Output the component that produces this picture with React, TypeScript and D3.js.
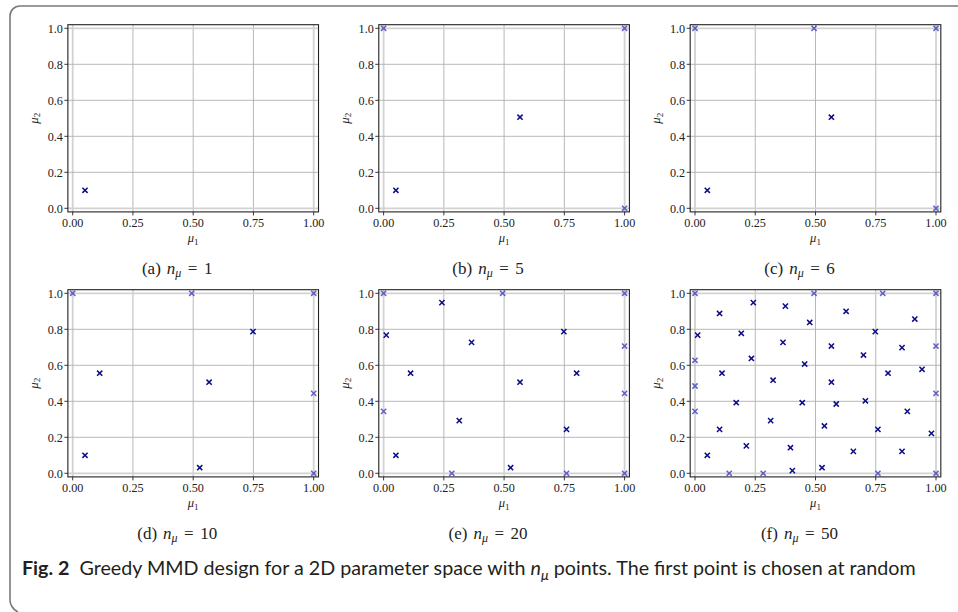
import React from "react";
import * as d3 from "d3";

// Greedy MMD design sequence (first n points are used for each panel)
const MU1 = [
  0.051,
  0, 1, 1, 0.566,
  0.494,
  0.748, 0.112, 1, 0.527,
  0.242, 0.011, 0.365, 1, 0.801, 0, 0.314, 0.759, 0.283, 0.759,
  0.779, 0.375, 0.102, 0.627, 0.476, 0.912, 0.192, 0, 0.234, 0.455,
  0.324, 0.566, 0.699, 0.859, 0.942, 0, 0.171, 0.445, 0.586, 0.707,
  0.881, 0.102, 0.537, 0.981, 0.213, 0.396, 0.657, 0.859, 0.142, 0.404,
];
const MU2 = [
  0.10,
  1, 1, 0, 0.506,
  1,
  0.787, 0.556, 0.444, 0.031,
  0.948, 0.768, 0.727, 0.707, 0.556, 0.344, 0.293, 0.244, 0, 0,
  1, 0.929, 0.888, 0.9, 0.838, 0.857, 0.778, 0.628, 0.638, 0.607,
  0.517, 0.707, 0.657, 0.698, 0.578, 0.485, 0.392, 0.392, 0.385, 0.403,
  0.344, 0.244, 0.263, 0.222, 0.152, 0.142, 0.122, 0.122, 0, 0.015,
];
const PANEL_LETTERS = ["a", "b", "c", "d", "e", "f"];
const PANEL_N = [1, 5, 6, 10, 20, 50];
const X_TICKS = [0, 0.25, 0.5, 0.75, 1];
const Y_TICKS = [0, 0.2, 0.4, 0.6, 0.8, 1];
const CAPTION_LABEL = "Fig. 2";
const CAPTION_PRE = "Greedy MMD design for a 2D parameter space with ";
const CAPTION_POST = " points. The first point is chosen at random";

const W = 958;
const H = 612;
const COL_X0 = [72.7, 383.6, 695];
const ROW_Y1 = [28.3, 293.3];
const UNIT_W = 241;
const UNIT_H = 180;
const PAD = 0.02;
const SERIF = "'Liberation Serif', 'DejaVu Serif', serif";
const SANS = "Lato, 'Open Sans', sans-serif";

function Panel({ idx }: { idx: number }) {
  const col = idx % 3;
  const row = Math.floor(idx / 3);
  const x0 = COL_X0[col];
  const y1 = ROW_Y1[row];
  const x = d3
    .scaleLinear()
    .domain([-PAD, 1 + PAD])
    .range([x0 - PAD * UNIT_W, x0 + (1 + PAD) * UNIT_W]);
  const y = d3
    .scaleLinear()
    .domain([-PAD, 1 + PAD])
    .range([y1 + (1 + PAD) * UNIT_H, y1 - PAD * UNIT_H]);
  const [L, R] = x.range();
  const [B, T] = y.range();
  const fx = d3.format(".2f");
  const fy = d3.format(".1f");
  const n = PANEL_N[idx];
  const pts = d3.range(n).map((i) => ({ u: MU1[i], v: MU2[i] }));
  const cx = (L + R) / 2;
  const cy = (T + B) / 2;
  const m = 2.6;
  const isEdge = (a: number) => a === 0 || a === 1;
  return (
    <g>
      <rect x={L} y={T} width={R - L} height={B - T} fill="#fff" />
      {X_TICKS.map((t) => (
        <line
          key={"gx" + t}
          x1={x(t)}
          x2={x(t)}
          y1={T}
          y2={B}
          stroke={isEdge(t) ? "#d2d2d2" : "#b0b0b0"}
          strokeWidth={isEdge(t) ? 1.8 : 0.9}
        />
      ))}
      {Y_TICKS.map((t) => (
        <line
          key={"gy" + t}
          x1={L}
          x2={R}
          y1={y(t)}
          y2={y(t)}
          stroke={isEdge(t) ? "#d2d2d2" : "#b0b0b0"}
          strokeWidth={isEdge(t) ? 1.8 : 0.9}
        />
      ))}
      {pts.map((p, i) => {
        const px = x(p.u);
        const py = y(p.v);
        const edge = isEdge(p.u) || isEdge(p.v);
        return (
          <path
            key={i}
            d={`M${px - m},${py - m}L${px + m},${py + m}M${px - m},${py + m}L${px + m},${py - m}`}
            stroke={edge ? "#4646bf" : "#0c0c85"}
            strokeWidth={1.5}
            opacity={edge ? 0.85 : 1}
            fill="none"
          />
        );
      })}
      <rect x={L} y={T} width={R - L} height={B - T} fill="none" stroke="#222" strokeWidth={1.1} />
      {X_TICKS.map((t) => (
        <g key={"tx" + t}>
          <line x1={x(t)} x2={x(t)} y1={B} y2={B + 3.5} stroke="#222" strokeWidth={0.9} />
          <text
            x={x(t)}
            y={B + 15}
            textAnchor="middle"
            fontFamily={SERIF}
            fontSize={12.2}
            fill="#222"
          >
            {fx(t)}
          </text>
        </g>
      ))}
      {Y_TICKS.map((t) => (
        <g key={"ty" + t}>
          <line x1={L - 3.5} x2={L} y1={y(t)} y2={y(t)} stroke="#222" strokeWidth={0.9} />
          <text
            x={L - 5}
            y={y(t) + 4.2}
            textAnchor="end"
            fontFamily={SERIF}
            fontSize={12.2}
            fill="#222"
          >
            {fy(t)}
          </text>
        </g>
      ))}
      <text x={cx} y={B + 30.5} textAnchor="middle" fontFamily={SERIF} fontSize={12.5} fill="#222">
        <tspan fontStyle="italic">μ</tspan>
        <tspan fontSize={9} dy={2.5}>1</tspan>
      </text>
      <text
        transform={`translate(${L - 30},${cy}) rotate(-90)`}
        textAnchor="middle"
        fontFamily={SERIF}
        fontSize={13}
        fill="#222"
      >
        <tspan fontStyle="italic">μ</tspan>
        <tspan fontSize={9} dy={2.5}>2</tspan>
      </text>
      <text x={cx - 16} y={B + 62} textAnchor="middle" fontFamily={SERIF} fontSize={17} fill="#222">
        <tspan>{`(${PANEL_LETTERS[idx]})`}</tspan>
        <tspan fontStyle="italic" dx={6}>n</tspan>
        <tspan fontStyle="italic" fontSize={12} dy={3.5}>μ</tspan>
        <tspan dy={-3.5} dx={6.5}>=</tspan>
        <tspan dx={6.5}>{String(n)}</tspan>
      </text>
    </g>
  );
}

export default function App() {
  return (
    <svg
      width={W}
      height={H}
      viewBox={`0 0 ${W} ${H}`}
      style={{ position: "absolute", left: 0, top: 0, display: "block", background: "#fff" }}
    >
      <rect width={W} height={H} fill="#fff" />
      <path
        d={`M${W},6 H20 A10,10 0 0 0 10,16 V598 A14,14 0 0 0 18,612`}
        fill="none"
        stroke="#7a7a7a"
        strokeWidth={1.6}
      />
      {PANEL_N.map((_, i) => (
        <Panel key={i} idx={i} />
      ))}
      <text x={22} y={575} fontFamily={SANS} fontSize={19.7} fill="#231f20" style={{ whiteSpace: "pre" }}>
        <tspan fontWeight="bold">{CAPTION_LABEL}</tspan>
        <tspan>{"  " + CAPTION_PRE}</tspan>
        <tspan fontStyle="italic">n</tspan>
        <tspan fontStyle="italic" fontSize={14} dy={4.5}>μ</tspan>
        <tspan dy={-4.5}>{CAPTION_POST}</tspan>
      </text>
    </svg>
  );
}
